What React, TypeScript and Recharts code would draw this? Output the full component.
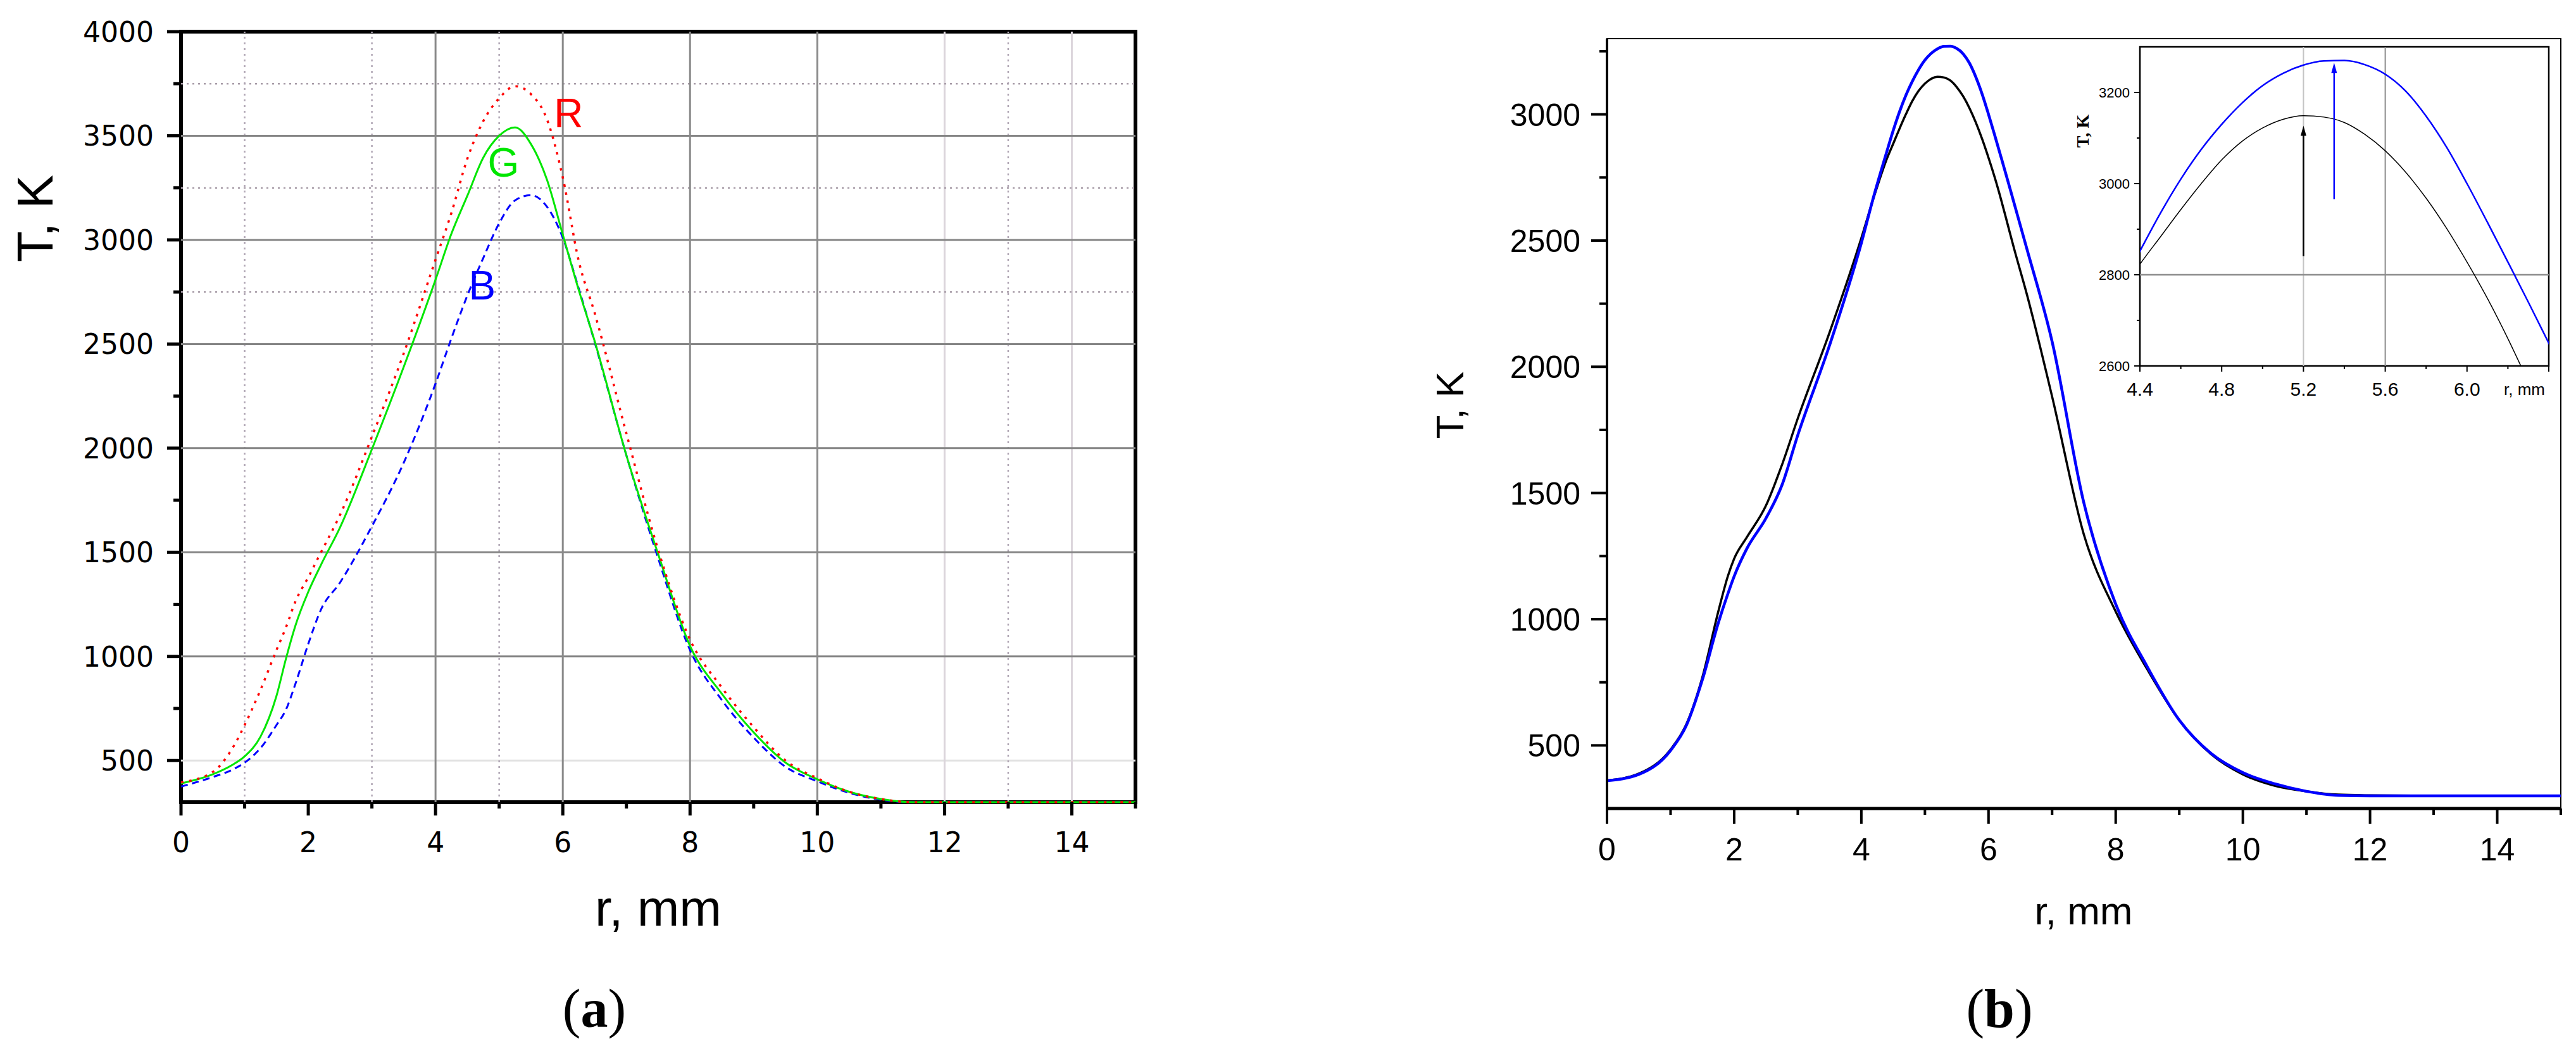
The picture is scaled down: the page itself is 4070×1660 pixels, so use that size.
import React from 'react';
import { LineChart, Line, XAxis, YAxis, ReferenceLine, ReferenceArea, ReferenceDot } from 'recharts';

// ---------------- Panel (a): R, G, B temperature profiles ----------------
const radiusA = [0, 0.5, 0.8, 1.0, 1.25, 1.5, 1.65, 1.8, 2.0, 2.2, 2.5, 3.0, 3.5, 4.0, 4.25, 4.5, 4.75, 5.0, 5.25, 5.5, 5.75, 6.0, 6.25, 6.5, 7.0, 7.5, 8.0, 8.5, 9.0, 9.5, 10.0, 10.5, 11.0, 11.5, 12, 13, 14, 15];
const tempR = [395, 445, 555, 670, 840, 1030, 1140, 1265, 1380, 1500, 1680, 2055, 2455, 2905, 3130, 3390, 3570, 3680, 3738, 3700, 3580, 3300, 2900, 2650, 2070, 1510, 1080, 850, 660, 500, 415, 350, 315, 300, 300, 300, 300, 300];
const tempG = [390, 434, 478, 520, 615, 810, 990, 1150, 1310, 1440, 1620, 1995, 2390, 2809, 3030, 3212, 3395, 3500, 3540, 3460, 3290, 3025, 2760, 2515, 1965, 1490, 1050, 820, 635, 490, 410, 350, 315, 300, 300, 300, 300, 300];
const tempB = [375, 421, 455, 490, 560, 670, 745, 870, 1060, 1225, 1355, 1625, 1930, 2310, 2528, 2733, 2913, 3080, 3190, 3215, 3160, 3010, 2767, 2510, 1965, 1470, 1030, 790, 610, 470, 400, 345, 312, 300, 300, 300, 300, 300];

const xTicksA = [0, 1, 2, 3, 4, 5, 6, 7, 8, 9, 10, 11, 12, 13, 14, 15];
const yTicksA = [500, 750, 1000, 1250, 1500, 1750, 2000, 2250, 2500, 2750, 3000, 3250, 3500, 3750, 4000];
const gridYMajorA = [1000, 1500, 2000, 2500, 3000, 3500];
const gridYLightA = [500];
const gridYDottedA = [2750, 3250, 3750];
const gridXMajorA = [4, 6, 8, 10];
const gridXLightA = [12, 14];
const gridXDottedA = [1, 3, 5, 13];
const seriesLabelsA = [
  { name: 'R', r: 5.86, T: 3542, color: '#ff0000' },
  { name: 'G', r: 4.82, T: 3305, color: '#00e600' },
  { name: 'B', r: 4.52, T: 2713, color: '#0000ff' },
];

// ---------------- Panel (b): black and blue profiles ----------------
const radiusB = [0, 0.5, 1.0, 1.25, 1.5, 1.75, 1.9, 2.0, 2.2, 2.5, 2.75, 3.0, 3.5, 4.0, 4.2,
  4.4, 4.5, 4.6, 4.7, 4.8, 4.9, 5.0, 5.1, 5.2, 5.3, 5.4, 5.5, 5.6, 5.7, 5.8, 5.9, 6.0, 6.1, 6.2, 6.3, 6.4,
  6.6, 7.0, 7.5, 8, 8.5, 9, 9.5, 10, 10.5, 11, 11.5, 12, 13, 14, 15];
const tempBlack = [361, 388, 484, 585, 770, 1030, 1170, 1240, 1325, 1450, 1610, 1795, 2136, 2510, 2675,
  2823, 2883, 2943, 3000, 3052, 3093, 3122, 3141, 3149, 3146, 3134, 3108, 3072, 3025, 2968, 2902, 2828, 2748, 2660, 2565, 2470,
  2290, 1882, 1335, 1030, 800, 600, 465, 385, 340, 318, 305, 302, 300, 300, 300];
const tempBlue = [360, 385, 480, 580, 760, 985, 1100, 1170, 1280, 1400, 1530, 1729, 2085, 2490, 2680,
  2852, 2935, 3010, 3075, 3130, 3177, 3215, 3242, 3260, 3269, 3270, 3261, 3240, 3203, 3148, 3080, 3000, 2915, 2828, 2740, 2650,
  2470, 2100, 1460, 1060, 810, 600, 468, 392, 348, 318, 302, 300, 300, 300, 300];

const xTicksB = [0, 1, 2, 3, 4, 5, 6, 7, 8, 9, 10, 11, 12, 13, 14, 15];
const yTicksB = [500, 750, 1000, 1250, 1500, 1750, 2000, 2250, 2500, 2750, 3000, 3250];

// inset
const xTicksInset = [4.4, 4.6, 4.8, 5.0, 5.2, 5.4, 5.6, 5.8, 6.0, 6.2, 6.4];
const yTicksInset = [2600, 2700, 2800, 2900, 3000, 3100, 3200];
const insetGridX = [5.2, 5.6];
const insetGridY = [2800];
const insetArrows = [
  { r: 5.2, from: 2841, to: 3127, color: '#000000' },
  { r: 5.35, from: 2966, to: 3265, color: '#0000ff' },
];

const dataA = radiusA.map((r, i) => ({ r, R: tempR[i], G: tempG[i], B: tempB[i] }));
const dataB = radiusB.map((r, i) => ({ r, black: tempBlack[i], blue: tempBlue[i] }));

const SANS = 'Liberation Sans, Arial, sans-serif';

type TickOpts = {
  isMajor: (v: number) => boolean;
  showLabel: (v: number) => boolean;
  majorLen: number;
  minorLen: number;
  width: number;
  gap: number;
  shift: number;
  font: string;
  size: number;
  format: (v: number) => string;
};

const makeYTick = (o: TickOpts) => (props: any) => {
  const { x, y, payload } = props;
  const v = payload.value as number;
  const major = o.isMajor(v);
  return (
    <g>
      <line x1={x - (major ? o.majorLen : o.minorLen)} x2={x} y1={y} y2={y} stroke="#000" strokeWidth={o.width} />
      {major && o.showLabel(v) && (
        <text x={x - o.gap} y={y + o.shift} textAnchor="end" fontFamily={o.font} fontSize={o.size} fill="#000">
          {o.format(v)}
        </text>
      )}
    </g>
  );
};

const makeXTick = (o: TickOpts, extra?: (v: number, x: number, y: number) => React.ReactNode) => (props: any) => {
  const { x, y, payload } = props;
  const v = payload.value as number;
  const major = o.isMajor(v);
  return (
    <g>
      <line x1={x} x2={x} y1={y} y2={y + (major ? o.majorLen : o.minorLen)} stroke="#000" strokeWidth={o.width} />
      {major && o.showLabel(v) && (
        <text x={x} y={y + o.shift} textAnchor="middle" fontFamily={o.font} fontSize={o.size} fill="#000">
          {o.format(v)}
        </text>
      )}
      {extra ? extra(v, x, y) : null}
    </g>
  );
};

const yTickA = makeYTick({
  isMajor: (v) => v % 500 === 0, showLabel: () => true, majorLen: 22, minorLen: 12, width: 5,
  gap: 43, shift: 16, font: 'DejaVu Sans, sans-serif', size: 44, format: (v) => String(v),
});
const xTickA = makeXTick({
  isMajor: (v) => v % 2 === 0, showLabel: () => true, majorLen: 21, minorLen: 10, width: 5,
  gap: 0, shift: 79, font: 'DejaVu Sans, sans-serif', size: 44, format: (v) => String(v),
});
const yTickB = makeYTick({
  isMajor: (v) => v % 500 === 0, showLabel: () => true, majorLen: 25, minorLen: 12, width: 4,
  gap: 42, shift: 18, font: SANS, size: 50, format: (v) => String(v),
});
const xTickB = makeXTick({
  isMajor: (v) => v % 2 === 0, showLabel: () => true, majorLen: 24, minorLen: 10, width: 4,
  gap: 0, shift: 82, font: SANS, size: 50, format: (v) => String(v),
});
const yTickInset = makeYTick({
  isMajor: (v) => v % 200 === 0, showLabel: () => true, majorLen: 9, minorLen: 5, width: 2,
  gap: 16, shift: 8, font: SANS, size: 22, format: (v) => String(v),
});
const xTickInset = makeXTick(
  {
    isMajor: (v) => Math.round((v - 4.4) * 10) % 4 === 0, showLabel: (v) => v < 6.3, majorLen: 9, minorLen: 5, width: 2,
    gap: 0, shift: 47, font: SANS, size: 30, format: (v) => v.toFixed(1),
  },
  (v, x, y) =>
    v > 6.3 ? (
      <text x={x - 6} y={y + 46} textAnchor="end" fontFamily={SANS} fontSize={26} fill="#000">
        r, mm
      </text>
    ) : null
);

const ArrowShape = (props: any) => {
  const { x1, y1, x2, y2, stroke } = props;
  const head = 16;
  const half = 4.5;
  const dir = y2 < y1 ? 1 : -1;
  return (
    <g>
      <line x1={x1} y1={y1} x2={x2} y2={y2 + dir * head * 0.6} stroke={stroke} strokeWidth={2.5} />
      <polygon points={`${x2},${y2} ${x2 - half},${y2 + dir * head} ${x2 + half},${y2 + dir * head}`} fill={stroke} />
    </g>
  );
};

const PanelA = () => (
  <LineChart width={1900} height={1400} data={dataA} margin={{ top: 50, right: 106, bottom: 33, left: 186 }}>
    <XAxis dataKey="r" type="number" domain={[0, 15]} ticks={xTicksA} interval={0} height={100}
      tickSize={0} tickMargin={0} tickLine={false} axisLine={false} tick={xTickA} />
    <YAxis type="number" domain={[300, 4000]} ticks={yTicksA} interval={0} width={100}
      tickSize={0} tickMargin={0} tickLine={false} axisLine={false} tick={yTickA} />
    {gridYLightA.map((v) => <ReferenceLine key={'yl' + v} y={v} stroke="#e2e2e2" strokeWidth={3} />)}
    {gridXLightA.map((v) => <ReferenceLine key={'xl' + v} x={v} stroke="#dcd6dc" strokeWidth={3} />)}
    {gridYDottedA.map((v) => <ReferenceLine key={'yd' + v} y={v} stroke="#a89ca8" strokeWidth={2.5} strokeDasharray="3 6" />)}
    {gridXDottedA.map((v) => <ReferenceLine key={'xd' + v} x={v} stroke="#b0a6b4" strokeWidth={2.5} strokeDasharray="3 6" />)}
    {gridYMajorA.map((v) => <ReferenceLine key={'ym' + v} y={v} stroke="#858585" strokeWidth={3} />)}
    {gridXMajorA.map((v) => <ReferenceLine key={'xm' + v} x={v} stroke="#8a8a8a" strokeWidth={3} />)}
    <ReferenceArea x1={0} x2={15} y1={300} y2={4000} fill="none" stroke="#000" strokeWidth={6} ifOverflow="visible" />
    <Line dataKey="B" type="monotone" stroke="#0000ff" strokeWidth={3} strokeDasharray="11 7" dot={false} activeDot={false} isAnimationActive={false} />
    <Line dataKey="G" type="monotone" stroke="#00e600" strokeWidth={3} dot={false} activeDot={false} isAnimationActive={false} />
    <Line dataKey="R" type="monotone" stroke="#ff0000" strokeWidth={3.5} strokeDasharray="4 9" dot={false} activeDot={false} isAnimationActive={false} />
    {seriesLabelsA.map((l) => (
      <ReferenceDot key={l.name} x={l.r} y={l.T} r={1} ifOverflow="visible"
        shape={(p: any) => (
          <text x={p.cx} y={p.cy} fill={l.color} fontFamily={SANS} fontSize={64}>{l.name}</text>
        )} />
    ))}
  </LineChart>
);

const PanelB = () => (
  <LineChart width={1770} height={1400} data={dataB} margin={{ top: 61, right: 24, bottom: 23, left: 139 }}>
    <XAxis dataKey="r" type="number" domain={[0, 15]} ticks={xTicksB} interval={0} height={100}
      tickSize={0} tickMargin={0} tickLine={false} axisLine={{ stroke: '#000', strokeWidth: 5 }} tick={xTickB} />
    <YAxis type="number" domain={[250, 3300]} ticks={yTicksB} interval={0} width={100}
      tickSize={0} tickMargin={0} tickLine={false} axisLine={{ stroke: '#000', strokeWidth: 4 }} tick={yTickB} />
    <ReferenceArea x1={0} x2={15} y1={250} y2={3300} fill="none" stroke="#000" strokeWidth={2} ifOverflow="visible" />
    <Line dataKey="black" type="monotone" stroke="#000000" strokeWidth={3.5} dot={false} activeDot={false} isAnimationActive={false} />
    <Line dataKey="blue" type="monotone" stroke="#0000ff" strokeWidth={4.5} dot={false} activeDot={false} isAnimationActive={false} />
  </LineChart>
);

const Inset = () => (
  <LineChart width={830} height={680} data={dataB} margin={{ top: 74, right: 53, bottom: 42, left: 71 }}>
    <XAxis dataKey="r" type="number" domain={[4.4, 6.4]} allowDataOverflow ticks={xTicksInset} interval={0} height={60}
      tickSize={0} tickMargin={0} tickLine={false} axisLine={false} tick={xTickInset} />
    <YAxis type="number" domain={[2600, 3300]} allowDataOverflow ticks={yTicksInset} interval={0} width={60}
      tickSize={0} tickMargin={0} tickLine={false} axisLine={false} tick={yTickInset} />
    <ReferenceLine x={insetGridX[0]} stroke="#c4c4c4" strokeWidth={2} />
    <ReferenceLine x={insetGridX[1]} stroke="#8c8c8c" strokeWidth={2} />
    {insetGridY.map((v) => <ReferenceLine key={'iy' + v} y={v} stroke="#8c8c8c" strokeWidth={2.5} />)}
    <ReferenceArea x1={4.4} x2={6.4} y1={2600} y2={3300} fill="none" stroke="#000" strokeWidth={2.5} ifOverflow="visible" />
    <Line dataKey="black" type="monotone" stroke="#000000" strokeWidth={1.5} dot={false} activeDot={false} isAnimationActive={false} />
    <Line dataKey="blue" type="monotone" stroke="#0000ff" strokeWidth={2.5} dot={false} activeDot={false} isAnimationActive={false} />
    {insetArrows.map((a) => (
      <ReferenceLine key={'ar' + a.r} segment={[{ x: a.r, y: a.from }, { x: a.r, y: a.to }]} stroke={a.color}
        ifOverflow="visible" shape={(p: any) => <ArrowShape {...p} stroke={a.color} />} />
    ))}
  </LineChart>
);

export default function App() {
  return (
    <div style={{ position: 'absolute', left: 0, top: 0, width: 4070, height: 1660, background: '#fff', overflow: 'hidden' }}>
      <div style={{ position: 'absolute', left: 0, top: 0 }}>
        <PanelA />
      </div>
      <div style={{ position: 'absolute', left: 2300, top: 0 }}>
        <PanelB />
      </div>
      <div style={{ position: 'absolute', left: 3250, top: 0 }}>
        <Inset />
      </div>
      <svg width={4070} height={1660} style={{ position: 'absolute', left: 0, top: 0, pointerEvents: 'none' }}>
        <text x={83} y={345} transform="rotate(-90 83 345)" textAnchor="middle" fontFamily={SANS} fontSize={80} fill="#000">T, K</text>
        <text x={1040} y={1462} textAnchor="middle" fontFamily={SANS} fontSize={80} fill="#000">r, mm</text>
        <text x={2312} y={640} transform="rotate(-90 2312 640)" textAnchor="middle" fontFamily={SANS} fontSize={62} fill="#000">T, K</text>
        <text x={3292} y={1460} textAnchor="middle" fontFamily={SANS} fontSize={62} fill="#000">r, mm</text>
        <text x={3300} y={207} transform="rotate(-90 3300 207)" textAnchor="middle" fontFamily="Liberation Serif, serif" fontWeight="bold" fontSize={28} fill="#000">T, K</text>
        <text x={939} y={1622} textAnchor="middle" fontFamily="Liberation Serif, serif" fontSize={86} fill="#000">
          (<tspan fontWeight="bold">a</tspan>)
        </text>
        <text x={3159} y={1622} textAnchor="middle" fontFamily="Liberation Serif, serif" fontSize={86} fill="#000">
          (<tspan fontWeight="bold">b</tspan>)
        </text>
      </svg>
    </div>
  );
}
